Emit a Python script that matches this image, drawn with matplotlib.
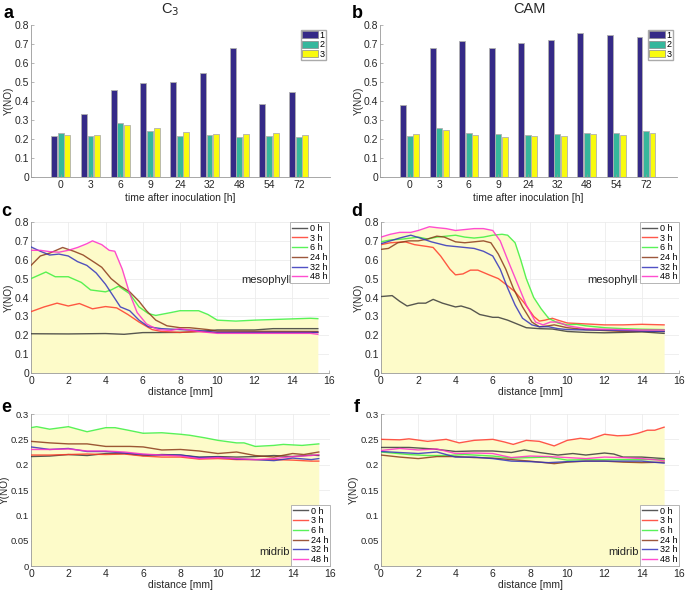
import numpy as np
import matplotlib.pyplot as plt
from matplotlib.patches import Patch

# ---- bar data (panels a, b)
times = ['0', '3', '6', '9', '24', '32', '48', '54', '72']
c3_1 = [0.215, 0.332, 0.457, 0.495, 0.500, 0.545, 0.680, 0.385, 0.448]
c3_2 = [0.232, 0.215, 0.282, 0.241, 0.218, 0.221, 0.208, 0.218, 0.213]
c3_3 = [0.223, 0.221, 0.272, 0.258, 0.238, 0.227, 0.227, 0.233, 0.223]
cam_1 = [0.380, 0.678, 0.715, 0.678, 0.705, 0.722, 0.758, 0.750, 0.735]
cam_2 = [0.218, 0.260, 0.233, 0.226, 0.222, 0.224, 0.232, 0.233, 0.240]
cam_3 = [0.228, 0.250, 0.219, 0.212, 0.215, 0.217, 0.224, 0.221, 0.233]

# ---- profile data (panels c-f), each curve as (distance, Y(NO))
labels = ['0 h', '3 h', '6 h', '24 h', '32 h', '48 h']

c_0h = ([0, 2, 4, 5, 6, 8, 9, 10, 12, 13, 15.4],
        [0.208, 0.207, 0.209, 0.205, 0.214, 0.215, 0.22, 0.228, 0.228, 0.235, 0.235])
c_3h = ([0, 0.7, 1.4, 2, 2.6, 3.3, 4, 4.6, 5.2, 5.8, 6.5, 7, 8, 9, 10, 15.4],
        [0.325, 0.35, 0.37, 0.355, 0.368, 0.34, 0.352, 0.345, 0.31, 0.27, 0.23, 0.22, 0.215, 0.22, 0.215, 0.215])
c_6h = ([0, 0.8, 1.3, 2, 2.7, 3.2, 4, 4.3, 4.7, 5.3, 5.8, 6.3, 6.7, 7.5, 8, 9, 9.5, 10, 11, 12, 13.5, 15, 15.4],
        [0.5, 0.535, 0.51, 0.51, 0.48, 0.44, 0.43, 0.44, 0.46, 0.42, 0.35, 0.315, 0.305, 0.32, 0.33, 0.33, 0.31, 0.28, 0.275, 0.28, 0.285, 0.29, 0.288])
c_24h = ([0, 0.5, 1, 1.7, 2.3, 2.8, 3.5, 3.8, 4.3, 4.8, 5.3, 5.8, 6.2, 6.7, 7.3, 8, 8.5, 9.5, 10, 15.4],
         [0.57, 0.62, 0.635, 0.665, 0.645, 0.625, 0.58, 0.56, 0.5, 0.46, 0.43, 0.38, 0.33, 0.28, 0.25, 0.24, 0.24, 0.23, 0.222, 0.22])
c_32h = ([0, 0.5, 1, 1.5, 2, 2.5, 3, 3.5, 4, 4.4, 4.8, 5.3, 5.8, 6.3, 7, 8, 9, 10, 15.4],
         [0.668, 0.645, 0.625, 0.63, 0.62, 0.59, 0.57, 0.53, 0.47, 0.41, 0.35, 0.33, 0.28, 0.245, 0.235, 0.23, 0.225, 0.215, 0.215])
c_48h = ([0, 0.5, 1, 1.5, 2, 2.5, 3, 3.3, 3.8, 4.2, 4.5, 4.9, 5.3, 5.7, 6.2, 6.8, 7.5, 8, 9, 10, 15, 15.4],
         [0.65, 0.65, 0.643, 0.64, 0.65, 0.665, 0.685, 0.7, 0.68, 0.65, 0.645, 0.55, 0.42, 0.32, 0.26, 0.23, 0.225, 0.235, 0.22, 0.21, 0.21, 0.205])

d_0h = ([0, 0.6, 1, 1.4, 2, 2.4, 2.8, 3.3, 4, 4.3, 4.8, 5.3, 6, 6.3, 6.8, 7.3, 7.8, 8.5, 9.2, 10, 11, 12, 13, 14, 15.2],
        [0.405, 0.41, 0.38, 0.355, 0.37, 0.37, 0.39, 0.37, 0.35, 0.355, 0.34, 0.31, 0.295, 0.295, 0.28, 0.26, 0.24, 0.235, 0.233, 0.22, 0.215, 0.213, 0.215, 0.218, 0.21])
d_3h = ([0, 0.5, 1.3, 1.8, 2.5, 2.8, 3.2, 3.7, 4, 4.4, 4.8, 5.2, 5.8, 6.3, 6.7, 7.2, 7.7, 8.2, 8.5, 8.8, 9.2, 9.5, 10, 11, 12, 13, 14, 15.2],
        [0.68, 0.69, 0.695, 0.68, 0.67, 0.665, 0.62, 0.55, 0.52, 0.525, 0.545, 0.545, 0.52, 0.5, 0.47, 0.43, 0.37, 0.3, 0.275, 0.28, 0.29, 0.28, 0.265, 0.26, 0.255, 0.255, 0.258, 0.255])
d_6h = ([0, 0.5, 1.2, 2, 2.5, 3, 3.5, 4, 4.5, 5, 5.5, 6, 6.5, 6.8, 7.2, 7.5, 7.8, 8.2, 8.6, 9, 9.5, 10, 10.5, 11, 12, 13, 14, 15.2],
        [0.695, 0.705, 0.71, 0.72, 0.71, 0.72, 0.725, 0.73, 0.72, 0.715, 0.72, 0.73, 0.735, 0.73, 0.69, 0.6, 0.5, 0.4, 0.34, 0.29, 0.265, 0.255, 0.258, 0.25, 0.24, 0.235, 0.232, 0.23])
d_24h = ([0, 0.4, 0.9, 1.5, 2, 2.5, 3, 3.4, 4, 4.5, 5, 5.5, 5.9, 6.3, 6.7, 7.1, 7.6, 8.1, 8.5, 9, 9.3, 10, 11, 12, 13, 15.2],
         [0.655, 0.66, 0.69, 0.7, 0.7, 0.71, 0.725, 0.72, 0.695, 0.69, 0.695, 0.7, 0.69, 0.63, 0.55, 0.45, 0.35, 0.27, 0.245, 0.25, 0.255, 0.24, 0.23, 0.225, 0.22, 0.22])
d_32h = ([0, 0.5, 1, 1.6, 2.1, 2.7, 3.5, 4, 4.5, 5, 5.5, 6, 6.4, 6.8, 7.2, 7.6, 8.1, 8.5, 9, 9.5, 10, 11, 12, 13, 14, 15.2],
         [0.685, 0.7, 0.715, 0.73, 0.715, 0.695, 0.675, 0.67, 0.665, 0.66, 0.645, 0.62, 0.55, 0.45, 0.36, 0.29, 0.255, 0.245, 0.245, 0.235, 0.23, 0.228, 0.228, 0.225, 0.222, 0.22])
d_48h = ([0, 0.5, 1, 1.6, 2, 2.6, 3, 3.5, 4, 4.5, 5, 5.5, 6, 6.4, 6.8, 7.3, 7.8, 8.3, 8.7, 9.1, 9.5, 10, 11, 12, 13, 14, 15.2],
         [0.72, 0.735, 0.745, 0.745, 0.755, 0.775, 0.77, 0.765, 0.755, 0.76, 0.765, 0.765, 0.755, 0.7, 0.6, 0.48, 0.36, 0.27, 0.255, 0.27, 0.27, 0.25, 0.235, 0.232, 0.23, 0.228, 0.228])

e_0h = ([0, 1, 2, 3, 4, 5, 6, 7, 8, 9, 10, 11, 12, 13, 14, 15, 15.4],
        [0.216, 0.217, 0.22, 0.218, 0.222, 0.222, 0.218, 0.22, 0.219, 0.215, 0.216, 0.215, 0.216, 0.218, 0.216, 0.219, 0.218])
e_3h = ([0, 1, 2, 3, 4, 5, 6, 7, 8, 9, 10, 11, 12, 13, 14, 15, 15.4],
        [0.219, 0.219, 0.22, 0.221, 0.22, 0.221, 0.217, 0.215, 0.215, 0.211, 0.212, 0.21, 0.21, 0.21, 0.209, 0.207, 0.207])
e_6h = ([0, 0.3, 1, 2, 2.3, 3, 4, 4.5, 5.2, 6, 7, 8, 8.5, 9.3, 10, 11, 11.4, 12, 13, 13.5, 14.5, 15.4],
        [0.273, 0.275, 0.27, 0.275, 0.272, 0.265, 0.273, 0.273, 0.268, 0.262, 0.263, 0.26, 0.258, 0.253, 0.248, 0.243, 0.243, 0.236, 0.238, 0.24, 0.238, 0.241])
e_24h = ([0, 1, 2, 3, 4, 5.3, 6, 7, 8, 9, 10, 11, 12, 13, 14, 14.6, 15.4],
         [0.246, 0.243, 0.241, 0.241, 0.236, 0.236, 0.235, 0.229, 0.23, 0.227, 0.222, 0.225, 0.218, 0.215, 0.222, 0.22, 0.225])
e_32h = ([0, 1, 2, 3, 4, 5, 6, 7, 8, 9, 10, 11, 12, 13, 14, 15, 15.4],
         [0.235, 0.23, 0.232, 0.226, 0.226, 0.223, 0.22, 0.219, 0.219, 0.214, 0.215, 0.211, 0.21, 0.208, 0.213, 0.21, 0.212])
e_48h = ([0, 1, 2, 3, 4, 5, 6, 7, 8, 9, 10, 11, 12, 13, 14, 15, 15.4],
         [0.23, 0.23, 0.231, 0.227, 0.227, 0.225, 0.221, 0.219, 0.217, 0.212, 0.214, 0.212, 0.21, 0.212, 0.216, 0.218, 0.22])

f_0h = ([0, 1.5, 2.8, 4, 5, 6, 7, 7.7, 8.5, 9.5, 10.3, 11, 12, 12.5, 13, 14, 15.2],
        [0.234, 0.234, 0.231, 0.226, 0.227, 0.227, 0.224, 0.229, 0.224, 0.219, 0.222, 0.219, 0.223, 0.221, 0.215, 0.215, 0.212])
f_3h = ([0, 1, 1.5, 2.5, 3.5, 4.2, 5, 6, 6.6, 7.1, 7.8, 8.5, 9.3, 10, 10.7, 11.2, 12, 12.7, 13.3, 13.8, 14.3, 14.7, 15.2],
        [0.25, 0.249, 0.251, 0.246, 0.25, 0.243, 0.248, 0.25, 0.245, 0.24, 0.248, 0.246, 0.237, 0.248, 0.252, 0.25, 0.26, 0.257, 0.258, 0.262, 0.268, 0.268, 0.274])
f_6h = ([0, 1.5, 2.5, 3.5, 4.5, 5.5, 6, 7, 8, 9, 10, 11, 12, 13, 14, 15.2],
        [0.225, 0.22, 0.218, 0.218, 0.22, 0.218, 0.217, 0.213, 0.214, 0.215, 0.209, 0.21, 0.21, 0.21, 0.21, 0.21])
f_24h = ([0, 1, 2, 3, 4, 5, 6, 7, 8, 9.3, 10, 11, 12, 13, 14, 15.2],
         [0.219, 0.215, 0.212, 0.216, 0.216, 0.214, 0.213, 0.21, 0.207, 0.202, 0.205, 0.207, 0.207, 0.205, 0.204, 0.205])
f_32h = ([0, 1, 2, 3, 4, 5, 6, 7, 8, 9, 10, 11, 12, 13, 14, 15.2],
         [0.226, 0.224, 0.222, 0.225, 0.215, 0.215, 0.212, 0.207, 0.206, 0.204, 0.206, 0.207, 0.207, 0.207, 0.207, 0.203])
f_48h = ([0, 1, 2, 3, 4, 5, 6, 7, 8, 9, 10, 11, 12, 13, 14, 15.2],
         [0.228, 0.232, 0.229, 0.231, 0.222, 0.223, 0.222, 0.214, 0.217, 0.216, 0.214, 0.212, 0.215, 0.214, 0.212, 0.208])

bar_colors = ['#352a87', '#35b79c', '#f9fb0e']
line_colors = ['#3a3a3a', '#ff3b2a', '#3cf03c', '#8b3a1a', '#3333bb', '#ff2ec8']
fill_color = '#fdfbc9'

plt.rcParams['font.family'] = ['Liberation Sans', 'DejaVu Sans']
plt.rcParams['font.size'] = 7.5

fig = plt.figure(figsize=(6.85, 5.92), dpi=100)
W, H = 685, 592


def px_axes(l, t, r, b):
    ax = fig.add_axes([l / W, 1 - b / H, (r - l) / W, (b - t) / H])
    ax._px = (l, r)
    return ax


def style(ax, ylab_x, tsize=7.5):
    for s in ['top', 'right']:
        ax.spines[s].set_visible(False)
    for s in ['left', 'bottom']:
        ax.spines[s].set_color('#999999')
        ax.spines[s].set_linewidth(0.6)
    ax.tick_params(direction='in', length=2, width=0.5, colors='#999999',
                   labelcolor='#262626', labelsize=tsize, pad=2)
    ax.tick_params(axis='y', pad=1.5)
    l, r = ax._px
    # ylab_x = right edge (pixels) of the rotated y label
    ax.set_ylabel('Y(NO)', fontsize=7.2, color='#262626')
    ax.yaxis.set_label_coords((ylab_x - l) / (r - l), 0.5)


def bar_panel(ax, v1, v2, v3, ylab_x):
    pos = np.arange(1, len(times) + 1)
    w = 0.2
    for k, (vals, col) in enumerate(zip([v1, v2, v3], bar_colors)):
        ax.bar(pos + (k - 1) * 0.22, vals, width=w, color=col,
               edgecolor='#b0b0b0', linewidth=0.6)
    ax.set_xlim(0, 10.05)
    ax.set_ylim(0, 0.8)
    ax.set_xticks(pos)
    ax.set_xticklabels(times)
    ax.set_yticks(yt8)
    ax.set_yticklabels(ytl8)
    style(ax, ylab_x)
    ax.set_xlabel('time after inoculation [h]', fontsize=7.5, color='#262626', labelpad=2)
    handles = [Patch(facecolor=c, edgecolor='#888888', linewidth=0.5) for c in bar_colors]
    ax.legend(handles, ['1', '2', '3'], loc='upper right', bbox_to_anchor=(0.985, 0.97),
              fontsize=6.5, handlelength=1.7, handleheight=0.8, handletextpad=0.15,
              borderpad=0.15, labelspacing=0.05, fancybox=False, edgecolor='#aaaaaa',
              framealpha=1, borderaxespad=0)


def line_panel(ax, curves, ymax, yticks, ytl, xend, note, note_xy, legend_loc, ylab_x, tsize):
    grid = np.linspace(0, xend, 400)
    env = np.max([np.interp(grid, x, y) for x, y in curves], axis=0)
    ax.fill_between(grid, 0, env, color=fill_color, lw=0, zorder=1)
    hs = []
    for (x, y), col in zip(curves, line_colors):
        h, = ax.plot(x, y, color=col, lw=1.0, alpha=0.85, zorder=3)
        hs.append(h)
    ax.set_xlim(0, 16)
    ax.set_ylim(0, ymax)
    ax.set_xticks(range(0, 17, 2))
    ax.set_yticks(yticks)
    ax.set_yticklabels(ytl)
    ax.grid(True, color='#ececec', lw=0.6, zorder=0)
    ax.set_axisbelow(True)
    style(ax, ylab_x, tsize)
    ax.tick_params(axis='x', labelsize=7.5)
    ax.set_xlabel('distance [mm]', fontsize=7.5, color='#262626', labelpad=1)
    ax.text(note_xy[0], note_xy[1], note, fontsize=8, color='#262626',
            transform=ax.transAxes, ha='right', va='center')
    anchor = (1.0, 1.0) if legend_loc == 'upper right' else (1.0, 0.0)
    leg = ax.legend(hs, labels, loc=legend_loc, bbox_to_anchor=anchor, fontsize=6.5,
                    handlelength=1.7, handletextpad=0.25, borderpad=0.2,
                    labelspacing=0.08, fancybox=False, edgecolor='#aaaaaa',
                    framealpha=1, borderaxespad=0)
    leg.get_frame().set_linewidth(0.6)


yt8 = np.arange(0, 0.81, 0.1)
ytl8 = ['0'] + ['%.1f' % v for v in yt8[1:]]
yt3 = np.arange(0, 0.301, 0.05)
ytl3 = ['0', '0.05', '0.1', '0.15', '0.2', '0.25', '0.3']

ax_a = px_axes(31, 25, 330, 177)
bar_panel(ax_a, c3_1, c3_2, c3_3, 14)
ax_b = px_axes(380, 25, 677, 177)
bar_panel(ax_b, cam_1, cam_2, cam_3, 364)

fig.text(170 / W, 1 - 10 / H, r'C$_3$', fontsize=10.5, ha='center', va='center', color='#262626')
fig.text(530 / W, 1 - 9 / H, 'CAM', fontsize=10.5, ha='center', va='center', color='#262626')

ax_c = px_axes(31, 222, 329, 373)
line_panel(ax_c, [c_0h, c_3h, c_6h, c_24h, c_32h, c_48h], 0.8, yt8, ytl8, 15.4,
           'mesophyll', (0.875, 0.615), 'upper right', 14, 7.5)
ax_d = px_axes(381, 222, 679, 373)
line_panel(ax_d, [d_0h, d_3h, d_6h, d_24h, d_32h, d_48h], 0.8, yt8, ytl8, 15.2,
           'mesophyll', (0.862, 0.615), 'upper right', 364, 7.5)
ax_e = px_axes(31, 414, 330, 566)
line_panel(ax_e, [e_0h, e_3h, e_6h, e_24h, e_32h, e_48h], 0.3, yt3, ytl3, 15.4,
           'midrib', (0.865, 0.09), 'lower right', 10, 6.8)
ax_f = px_axes(381, 414, 679, 566)
line_panel(ax_f, [f_0h, f_3h, f_6h, f_24h, f_32h, f_48h], 0.3, yt3, ytl3, 15.2,
           'midrib', (0.865, 0.09), 'lower right', 359, 6.8)

for letter, x, y in [('a', 9, 13), ('b', 357, 13), ('c', 6, 212), ('d', 357, 212),
                     ('e', 6, 407), ('f', 357, 407)]:
    fig.text(x / W, 1 - y / H, letter, fontsize=13, fontweight='bold', ha='center', va='center')

fig.savefig('out.png', dpi=100)
